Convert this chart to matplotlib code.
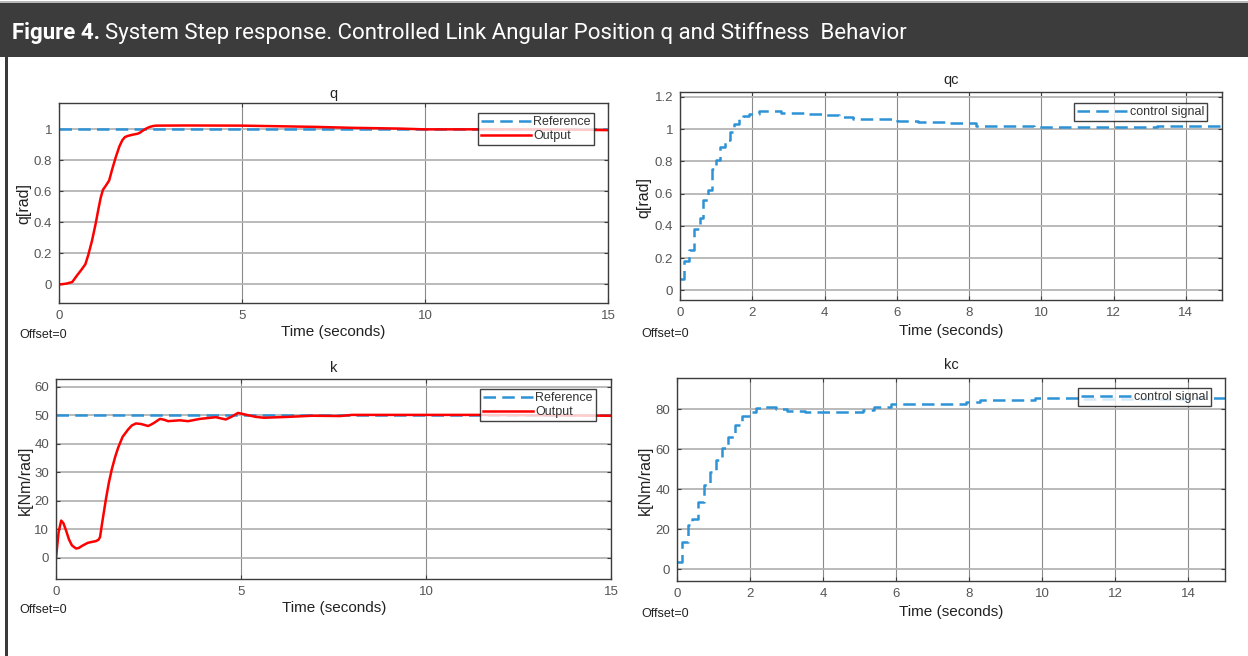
import numpy as np
import matplotlib
matplotlib.use("Agg")
import matplotlib.pyplot as plt
from matplotlib.patches import Rectangle
from matplotlib.ticker import FuncFormatter

# q: link angular position (rad), reference step = 1
q_t = [0, 0.04, 0.2, 0.36, 0.5, 0.63, 0.72, 0.8, 0.9, 1.0, 1.08, 1.14, 1.2, 1.26, 1.37, 1.45,
       1.55, 1.65, 1.73, 1.8, 1.87, 2.0, 2.15, 2.22, 2.28, 2.38, 2.47, 2.56, 2.65, 3.5, 5.0,
       6.0, 7.0, 8.0, 9.3, 10.0, 12.0, 14.0, 15.0]
q_out = [0, 0.0, 0.005, 0.015, 0.06, 0.10, 0.13, 0.19, 0.28, 0.39, 0.49, 0.56, 0.61, 0.63, 0.67,
         0.74, 0.82, 0.89, 0.93, 0.95, 0.957, 0.965, 0.972, 0.98, 0.99, 1.005, 1.015, 1.021, 1.024,
         1.025, 1.024, 1.02, 1.016, 1.01, 1.005, 1.0, 1.0, 0.998, 0.995]
q_ref = 1.0

# qc: control signal (zero-order hold)
qc_t = [0, 0.1, 0.25, 0.4, 0.55, 0.65, 0.78, 0.88, 1.0, 1.1, 1.24, 1.38, 1.5, 1.62, 1.75,
        1.9, 2.2, 2.8, 3.5, 4.0, 4.4, 4.8, 5.2, 6.0, 6.6, 7.4, 8.2, 9.8, 13.2, 15.0]
qc_val = [0.07, 0.18, 0.25, 0.38, 0.45, 0.56, 0.62, 0.75, 0.81, 0.89, 0.93, 0.985, 1.03, 1.06, 1.08,
          1.095, 1.11, 1.10, 1.095, 1.085, 1.075, 1.065, 1.06, 1.05, 1.045, 1.035, 1.02, 1.01, 1.02, 1.02]

# k: stiffness (Nm/rad), reference = 50
k_t = [0, 0.07, 0.14, 0.2, 0.27, 0.35, 0.43, 0.54, 0.62, 0.70, 0.86, 1.0, 1.08, 1.15, 1.19,
       1.25, 1.35, 1.43, 1.51, 1.6, 1.68, 1.8, 1.95, 2.05, 2.16, 2.3, 2.49, 2.57, 2.65, 2.81,
       2.92, 3.03, 3.35, 3.57, 3.89, 4.32, 4.45, 4.59, 4.75, 4.92, 5.19, 5.4, 5.62, 6.27, 6.92,
       7.68, 8.0, 9.3, 11.5, 15.0]
k_out = [0, 9.0, 13.1, 12.2, 9.7, 6.5, 4.4, 3.3, 3.5, 4.2, 5.3, 5.7, 5.9, 6.4, 7.3,
         12.5, 20.7, 26.5, 31.2, 35.5, 38.7, 42.5, 45.1, 46.5, 47.2, 47.0, 46.3, 46.8, 47.4, 48.8,
         48.5, 48.0, 48.3, 48.0, 48.8, 49.4, 49.0, 48.6, 49.6, 50.9, 50.1, 49.5, 49.2, 49.5, 49.9,
         49.8, 50.2, 50.2, 50.2, 49.9]
k_ref = 50.0

# kc: control signal (zero-order hold)
kc_t = [0, 0.14, 0.3, 0.41, 0.57, 0.74, 0.9, 1.06, 1.23, 1.39, 1.6, 1.77, 1.99, 2.15, 2.42,
        2.7, 3.0, 3.5, 4.9, 5.1, 5.4, 5.85, 7.9, 8.3, 8.9, 9.8, 11.0, 14.2, 15.0]
kc_val = [3.6, 13.7, 22, 25, 33.7, 42, 48.7, 54.5, 60.5, 66, 72, 76.5, 78.7, 80.3, 81.2,
          80, 79.2, 78.3, 78.5, 79.5, 80.8, 82.5, 83.7, 84.3, 84.5, 85.3, 85, 85.5, 85.5]

W, H = 1248, 656
BLUE = "#2e93d6"
RED = "#ff0000"
plt.rcParams["font.family"] = ["Liberation Sans", "DejaVu Sans"]

fig = plt.figure(figsize=(W / 100, H / 100), dpi=100)


def fx(x):
    return x / W


def fy(y):
    return 1 - y / H


# header bar and frame
fig.patches.append(Rectangle((0, fy(57)), 1, fy(3) - fy(57), transform=fig.transFigure,
                             facecolor="#3c3c3c", edgecolor="none", zorder=0))
fig.patches.append(Rectangle((0, fy(3)), 1, fy(1) - fy(3), transform=fig.transFigure,
                             facecolor="#b8b8b8", edgecolor="none", zorder=0))
fig.patches.append(Rectangle((fx(5), 0), fx(2.5), fy(57), transform=fig.transFigure,
                             facecolor="#3a3a3a", edgecolor="none", zorder=0))

t1 = fig.text(fx(12), fy(33), "Figure 4.", color="white", fontsize=16, fontweight="bold",
              family="Roboto", va="center", ha="left")
fig.canvas.draw()
bb = t1.get_window_extent()
fig.text(bb.x1 / W + fx(5), fy(33),
         "System Step response. Controlled Link Angular Position q and Stiffness  Behavior",
         color="white", fontsize=16, family="Roboto", va="center", ha="left")


def make_axes(l, t, r, b):
    ax = fig.add_axes([fx(l), fy(b), fx(r - l), fy(t) - fy(b)])
    ax.set_xlim(0, 15)
    for s in ax.spines.values():
        s.set_color("#3c3c3c")
        s.set_linewidth(1.0)
    ax.tick_params(direction="in", length=3, width=0.8, color="#3c3c3c",
                   labelsize=9.5, labelcolor="#555555", top=True, right=True, pad=5)
    ax.yaxis.set_major_formatter(FuncFormatter(lambda v, p: "%g" % v))
    ax.grid(axis="y", color="#b4b4b4", linewidth=1.3)
    ax.grid(axis="x", color="#8a8a8a", linewidth=0.8)
    ax.set_axisbelow(True)
    return ax


def labels(ax, title, ylabel, cx, ty, xly, yx, yly, offx, offy):
    fig.text(fx(cx), fy(ty), title, ha="center", va="center", fontsize=10.5, color="#222222")
    fig.text(fx(cx), fy(xly), "Time (seconds)", ha="center", va="center", fontsize=11,
             color="#222222")
    fig.text(fx(yx), fy(yly), ylabel, ha="center", va="center", rotation=90, fontsize=11.5,
             color="#222222")
    fig.text(fx(offx), fy(offy), "Offset=0", ha="left", va="center", fontsize=9,
             color="#222222")


def legend(ax, right, top):
    lg = ax.legend(loc="upper right", bbox_to_anchor=(fx(right), fy(top)),
                   bbox_transform=fig.transFigure, borderaxespad=0, fontsize=9,
                   frameon=True, fancybox=False, handlelength=4.0, handletextpad=0.2,
                   borderpad=0.25, labelspacing=0.15)
    lg.get_frame().set_edgecolor("#111111")
    lg.get_frame().set_linewidth(1.0)
    for txt in lg.get_texts():
        txt.set_color("#333333")


# panel q
ax1 = make_axes(59, 103, 608, 303)
ax1.axhline(q_ref, color=BLUE, lw=1.8, dashes=(5, 2.5), label="Reference")
ax1.plot(q_t, q_out, color=RED, lw=1.8, label="Output")
ax1.set_ylim(-0.12, 1.17)
ax1.set_yticks(np.arange(0, 1.01, 0.2))
ax1.set_xticks([0, 5, 10, 15])
legend(ax1, 594, 113)
labels(ax1, "q", "q[rad]", 333, 94, 332, 24, 203, 19, 335)

# panel qc
ax2 = make_axes(680, 92, 1222, 300)
ax2.plot(qc_t, qc_val, color=BLUE, lw=1.8, dashes=(5, 2.5), drawstyle="steps-post",
         label="control signal")
ax2.set_ylim(-0.06, 1.23)
ax2.set_yticks(np.arange(0, 1.21, 0.2))
ax2.set_xticks(np.arange(0, 15, 2))
legend(ax2, 1207, 103)
labels(ax2, "qc", "q[rad]", 951, 80, 331, 644, 197, 641, 334)

# panel k
ax3 = make_axes(56, 379, 611, 579)
ax3.axhline(k_ref, color=BLUE, lw=1.8, dashes=(5, 2.5), label="Reference")
ax3.plot(k_t, k_out, color=RED, lw=1.8, label="Output")
ax3.set_ylim(-7.4, 62.8)
ax3.set_yticks(np.arange(0, 61, 10))
ax3.set_xticks([0, 5, 10, 15])
legend(ax3, 596, 389)
labels(ax3, "k", "k[Nm/rad]", 334, 368, 608, 25, 480, 19, 610)

# panel kc
ax4 = make_axes(677, 378, 1225, 581)
ax4.plot(kc_t, kc_val, color=BLUE, lw=1.8, dashes=(5, 2.5), drawstyle="steps-post",
         label="control signal")
ax4.set_ylim(-6, 95.5)
ax4.set_yticks(np.arange(0, 81, 20))
ax4.set_xticks(np.arange(0, 15, 2))
legend(ax4, 1211, 388)
labels(ax4, "kc", "k[Nm/rad]", 951, 365, 612, 645, 480, 641, 614)

fig.savefig("out.png", dpi=100, facecolor="white")
